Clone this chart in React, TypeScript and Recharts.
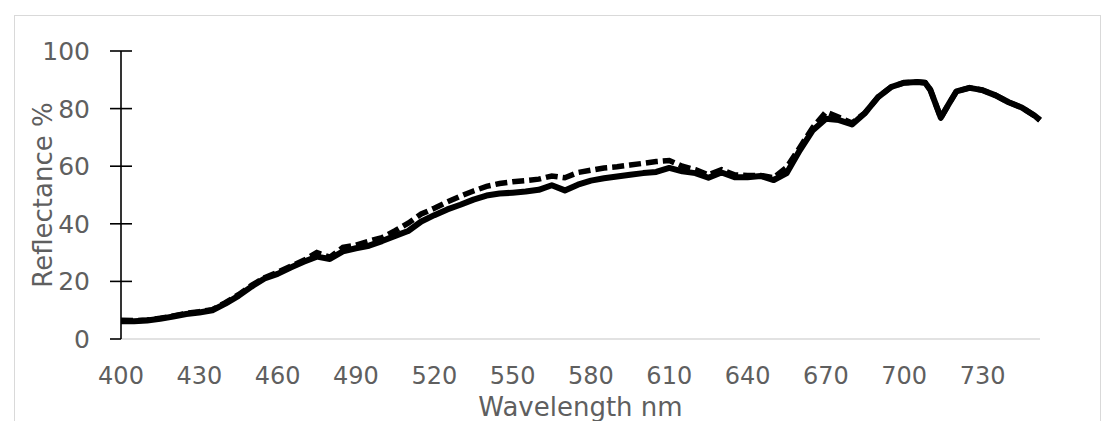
import { Label, Line, LineChart, XAxis, YAxis } from "recharts";

// wavelength (nm) and reflectance (%)
const wavelengths = [
  400, 405, 410, 415, 420, 425, 430, 435, 440, 445, 450, 455, 460, 465, 470,
  475, 480, 485, 490, 495, 500, 505, 510, 515, 520, 525, 530, 535, 540, 545,
  550, 555, 560, 565, 570, 575, 580, 585, 590, 595, 600, 605, 610, 615, 620,
  625, 630, 635, 640, 645, 650, 655, 660, 665, 670, 675, 680, 685, 690, 695,
  700, 705, 708, 710, 714, 717, 720, 725, 730, 735, 740, 745, 750, 752,
];

const solidSeries = [
  6.2, 6.2, 6.4, 7.0, 7.8, 8.7, 9.2, 10.0, 12.3, 15.0, 18.2, 21.0, 22.6, 24.8,
  26.8, 28.6, 27.8, 30.4, 31.5, 32.4, 34.0, 35.8, 37.5, 40.8, 43.0, 45.0, 46.6,
  48.4, 49.8, 50.5, 50.8, 51.2, 51.8, 53.4, 51.6, 53.6, 55.0, 55.8, 56.4, 57.0,
  57.6, 58.0, 59.4, 58.2, 57.6, 56.0, 57.8, 56.2, 56.2, 56.6, 55.2, 57.6, 65.5,
  72.5, 76.5, 76.0, 74.5, 78.5, 84.0, 87.5, 89.0, 89.2, 89.0, 86.5, 76.8, 81.5,
  86.0, 87.2, 86.4, 84.6, 82.2, 80.4, 77.5, 76.0,
];

const dashedSeries = [
  6.5, 6.4, 6.6, 7.2, 8.0, 8.9, 9.5, 10.2, 12.6, 15.4, 18.6, 21.3, 23.2, 25.3,
  27.3, 30.0, 28.4, 31.8, 32.6, 34.0, 35.2, 37.6, 40.2, 43.4, 45.4, 47.6, 49.6,
  51.4, 53.0, 54.0, 54.6, 55.0, 55.5, 56.6, 56.0, 57.8, 58.6, 59.4, 59.8, 60.4,
  61.0, 61.6, 62.0, 60.0, 58.8, 57.0, 58.8, 57.0, 56.8, 56.8, 56.0, 59.6, 66.5,
  73.5, 78.8, 77.0, 75.0, 78.5, 84.0, 87.5, 89.0, 89.2, 89.0, 86.5, 76.8, 81.5,
  86.0, 87.2, 86.4, 84.6, 82.2, 80.4, 77.5, 76.0,
];

const xTicks = [400, 430, 460, 490, 520, 550, 580, 610, 640, 670, 700, 730];
const yTicks = [0, 20, 40, 60, 80, 100];

const data = wavelengths.map((nm, i) => ({
  nm,
  solid: solidSeries[i],
  dashed: dashedSeries[i],
}));

const FONT = "'DejaVu Sans', sans-serif";
const GREY = "#5f5f5f";
const Y_TICK_GAP = 31;

function CrossTick(props: any) {
  const { x, y, payload } = props;
  const axisX = x + Y_TICK_GAP;
  return (
    <g>
      <line
        x1={axisX - 11}
        x2={payload.value === 0 ? axisX : axisX + 11}
        y1={y}
        y2={y}
        stroke="#000"
        strokeWidth={1.6}
      />
      <text
        x={x}
        y={y}
        dy="0.36em"
        textAnchor="end"
        fill={GREY}
        fontSize={25}
        fontFamily={FONT}
      >
        {payload.value}
      </text>
    </g>
  );
}

export default function App() {
  return (
    <div
      style={{
        position: "absolute",
        left: 0,
        top: 0,
        width: 1102,
        height: 421,
        overflow: "hidden",
        background: "#fff",
      }}
    >
      <div
        style={{
          position: "absolute",
          left: 14,
          top: 15,
          width: 1085,
          height: 440,
          border: "1px solid #d9d9d9",
        }}
      />
      <div style={{ position: "absolute", left: 0, top: 0 }}>
        <LineChart
          width={1102}
          height={421}
          data={data}
          margin={{ top: 51, right: 62, bottom: 0, left: 0 }}
        >
          <XAxis
            dataKey="nm"
            type="number"
            domain={[400, 752]}
            ticks={xTicks}
            height={82}
            stroke="#d9d9d9"
            strokeWidth={1.5}
            tickLine={false}
            tickSize={0}
            tickMargin={28}
            tick={{ fill: GREY, fontSize: 24, fontFamily: FONT }}
          >
            <Label
              value="Wavelength nm"
              position="insideBottom"
              offset={5}
              fill={GREY}
              fontSize={26}
              fontFamily={FONT}
            />
          </XAxis>
          <YAxis
            type="number"
            domain={[0, 100]}
            ticks={yTicks}
            width={121}
            stroke="#000"
            strokeWidth={1.6}
            tickLine={false}
            tickSize={0}
            tickMargin={Y_TICK_GAP}
            tick={<CrossTick />}
          >
            <Label
              content={({ viewBox }: any) => {
                const cx = 43;
                const cy = viewBox.y + viewBox.height / 2;
                return (
                  <text
                    x={cx}
                    y={cy}
                    transform={`rotate(-90 ${cx} ${cy})`}
                    textAnchor="middle"
                    dominantBaseline="central"
                    fill={GREY}
                    fontSize={26}
                    fontFamily={FONT}
                  >
                    Reflectance %
                  </text>
                );
              }}
            />
          </YAxis>
          <Line
            type="linear"
            dataKey="dashed"
            stroke="#000"
            strokeWidth={5.5}
            strokeDasharray="12 5"
            dot={false}
            isAnimationActive={false}
          />
          <Line
            type="linear"
            dataKey="solid"
            stroke="#000"
            strokeWidth={6}
            strokeLinejoin="round"
            dot={false}
            isAnimationActive={false}
          />
        </LineChart>
      </div>
    </div>
  );
}
